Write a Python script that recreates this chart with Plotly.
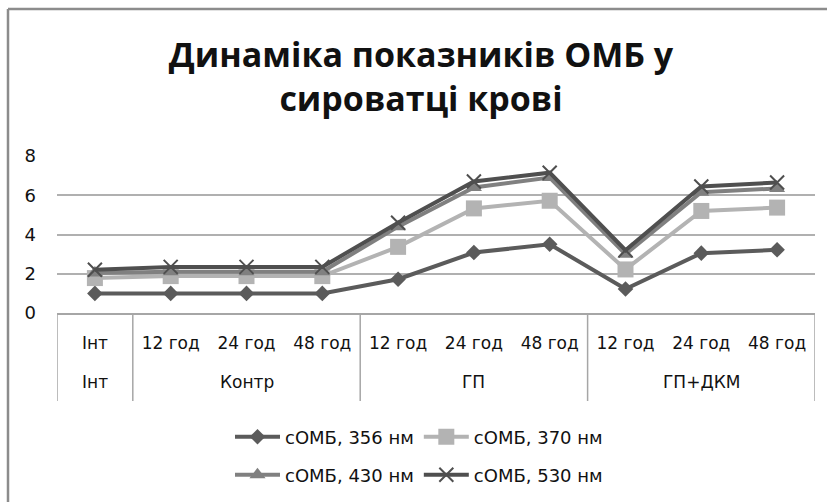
import plotly.graph_objects as go

groups = ["Інт", "Контр", "ГП", "ГП+ДКМ"]
group_members = [[0], [1, 2, 3], [4, 5, 6], [7, 8, 9]]
times = ["Інт", "12 год", "24 год", "48 год", "12 год", "24 год", "48 год", "12 год", "24 год", "48 год"]

s356 = [1.0, 1.0, 1.0, 1.0, 1.72, 3.08, 3.5, 1.22, 3.05, 3.22]
s370 = [1.78, 1.88, 1.88, 1.88, 3.37, 5.33, 5.72, 2.22, 5.2, 5.37]
s430 = [2.04, 2.1, 2.1, 2.1, 4.4, 6.4, 6.9, 3.0, 6.15, 6.35]
s530 = [2.2, 2.35, 2.35, 2.35, 4.6, 6.7, 7.15, 3.2, 6.45, 6.65]

names = ["сОМБ, 356 нм", "сОМБ, 370 нм", "сОМБ, 430 нм", "сОМБ, 530 нм"]
title_text = "Динаміка показників ОМБ у<br>сироватці крові"

W, H = 827, 502
L, R, T, B = 57, 815, 156, 313
PH = B - T
PW = R - L

def py(px):
    return (B - px) / PH

def pxp(px):
    return (px - L) / PW

xs = list(range(len(times)))

fig = go.Figure()
series = [
    (s356, names[0], "#5b5b5b", dict(symbol="diamond", size=12, color="#5b5b5b"), "legend"),
    (s370, names[1], "#b3b3b3", dict(symbol="square", size=16, color="#b3b3b3"), "legend"),
    (s430, names[2], "#808080", dict(symbol="triangle-up", size=14, color="#808080"), "legend2"),
    (s530, names[3], "#4f4f4f", dict(symbol="x-thin", size=14, color="#4f4f4f",
                                      line=dict(width=2, color="#4f4f4f")), "legend2"),
]
for vals, nm, col, mk, lg in series:
    fig.add_trace(go.Scatter(x=xs, y=vals, name=nm, mode="lines+markers",
                             line=dict(color=col, width=4), marker=mk, legend=lg))

tfont = "DejaVu Sans"

fig.update_layout(
    width=W, height=H,
    margin=dict(l=L, r=W - R, t=T, b=H - B, autoexpand=False),
    paper_bgcolor="white", plot_bgcolor="white",
    font=dict(family=tfont, color="#111111", size=17),
    title=dict(text="<b>" + title_text + "</b>", x=421 / W, xanchor="center",
               y=1 - 67 / H, yanchor="middle",
               font=dict(size=34, family="Open Sans", color="#111111")),
    xaxis=dict(range=[-0.5, len(times) - 0.5], tickmode="array", tickvals=xs, ticktext=times,
               showgrid=False, zeroline=False, showline=True, linecolor="#a6a6a6", linewidth=1.5,
               ticks="", tickfont=dict(size=17, family=tfont), ticklabelstandoff=14,
               tickangle=0, automargin=False),
    yaxis=dict(range=[0, 8], dtick=2, showgrid=True, gridcolor="#b0b0b0", gridwidth=1.5,
               showline=False, zeroline=False, ticks="", tickfont=dict(size=18, family=tfont),
               ticklabelstandoff=20, automargin=False),
    legend=dict(orientation="h", x=pxp(419), xanchor="center",
                y=py(437), yanchor="middle",
                font=dict(size=18, family=tfont), itemwidth=45,
                bgcolor="rgba(0,0,0,0)"),
    legend2=dict(orientation="h", x=pxp(419), xanchor="center",
                 y=py(475), yanchor="middle",
                 font=dict(size=18, family=tfont), itemwidth=45,
                 bgcolor="rgba(0,0,0,0)"),
    showlegend=True,
)

# group labels of the category axis
for g, members in zip(groups, group_members):
    fig.add_annotation(x=sum(members) / len(members), xref="x", y=py(382), yref="paper",
                       text=g, showarrow=False, yanchor="middle",
                       font=dict(size=17, family=tfont, color="#111111"))

# category dividers
bounds = [-0.5] + [m[-1] + 0.5 for m in group_members]
for bx in bounds:
    fig.add_shape(type="line", xref="x", yref="paper", x0=bx, x1=bx, y0=0, y1=py(401),
                  line=dict(color="#a6a6a6", width=1.5))

# chart frame (left and top edges)
fx0 = pxp(8)
fy0 = py(9)
fig.add_shape(type="line", xref="paper", yref="paper", x0=fx0, x1=fx0, y0=fy0, y1=py(H + 5),
              line=dict(color="#8c8c8c", width=2.5))
fig.add_shape(type="line", xref="paper", yref="paper", x0=fx0, x1=pxp(W + 5), y0=fy0, y1=fy0,
              line=dict(color="#8c8c8c", width=2.5))

fig.write_html("out.html")
